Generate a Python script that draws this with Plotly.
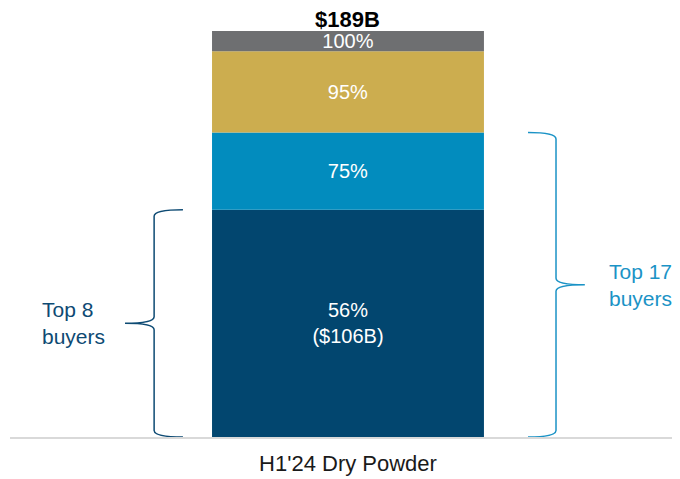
import plotly.graph_objects as go

CATEGORY = "H1'24 Dry Powder"
TOTAL_LABEL = "$189B"
SHARES = [56, 19, 20, 5]  # % of dry powder per segment
CUM_LABELS = ["56%<br>($106B)", "75%", "95%", "100%"]
SEG_COLORS = ["#02466F", "#028CBE", "#CCAD4F", "#6E6F71"]

NAVY = "#0D4A73"
TEAL = "#1B93C6"
FONT = "Liberation Sans, Arial, sans-serif"

cum = []
run = 0
for s in SHARES:
    run += s
    cum.append(run)


def brace(x_tip, x_line, x_point, y0, y1, c=1.6):
    ym = (y0 + y1) / 2
    return (
        f"M {x_tip},{y1} Q {x_line},{y1} {x_line},{y1 - c} "
        f"L {x_line},{ym + c} Q {x_line},{ym} {x_point},{ym} "
        f"Q {x_line},{ym} {x_line},{ym - c} "
        f"L {x_line},{y0 + c} Q {x_line},{y0} {x_tip},{y0}"
    )


fig = go.Figure()
base = 0
for share, label, color in zip(SHARES, CUM_LABELS, SEG_COLORS):
    fig.add_trace(
        go.Bar(
            x=[0],
            y=[share],
            base=[base],
            width=1,
            marker=dict(color=color, line=dict(width=0)),
            text=[label],
            textposition="inside",
            insidetextanchor="middle",
            constraintext="none",
            textfont=dict(color="white", size=20, family=FONT),
            hoverinfo="skip",
            showlegend=False,
        )
    )
    base += share

# braces for top 8 / top 17 buyers
fig.add_shape(type="path", xref="x", yref="y",
              path=brace(-0.607, -0.713, -0.82, 0, cum[0]),
              line=dict(color=NAVY, width=1.5))
fig.add_shape(type="path", xref="x", yref="y",
              path=brace(0.662, 0.765, 0.871, 0, cum[1]),
              line=dict(color=TEAL, width=1.5))

fig.add_annotation(x=-1.132, y=cum[0] / 2, xref="x", yref="y",
                   text="Top 8<br>buyers", showarrow=False, align="left",
                   xanchor="left", yanchor="middle",
                   font=dict(color=NAVY, size=21, family=FONT))
fig.add_annotation(x=0.952, y=cum[1] / 2, xref="x", yref="y",
                   text="Top 17<br>buyers", showarrow=False, align="left",
                   xanchor="left", yanchor="middle",
                   font=dict(color=TEAL, size=21, family=FONT))
fig.add_annotation(x=0, y=cum[-1], xref="x", yref="y",
                   text=f"<b>{TOTAL_LABEL}</b>", showarrow=False,
                   xanchor="center", yanchor="bottom", yshift=-3,
                   font=dict(color="black", size=22, family=FONT))

# page body adds an 8px offset, so the figure is sized to fit the window
fig.update_layout(
    width=672,
    height=471,
    margin=dict(l=2, r=0, t=6, b=42),
    plot_bgcolor="white",
    paper_bgcolor="white",
    barmode="overlay",
    font=dict(family=FONT),
    xaxis=dict(
        range=[-1.243, 1.221],
        tickvals=[0],
        ticktext=[CATEGORY],
        ticks="outside",
        ticklen=6,
        tickcolor="white",
        showgrid=False,
        zeroline=False,
        showline=True,
        linecolor="#D9D9D9",
        linewidth=2,
        tickfont=dict(size=22, color="#1a1a1a", family=FONT),
        fixedrange=True,
    ),
    yaxis=dict(
        range=[0, 104.19],
        visible=False,
        showgrid=False,
        zeroline=False,
        fixedrange=True,
    ),
)

fig.write_html("out.html")
